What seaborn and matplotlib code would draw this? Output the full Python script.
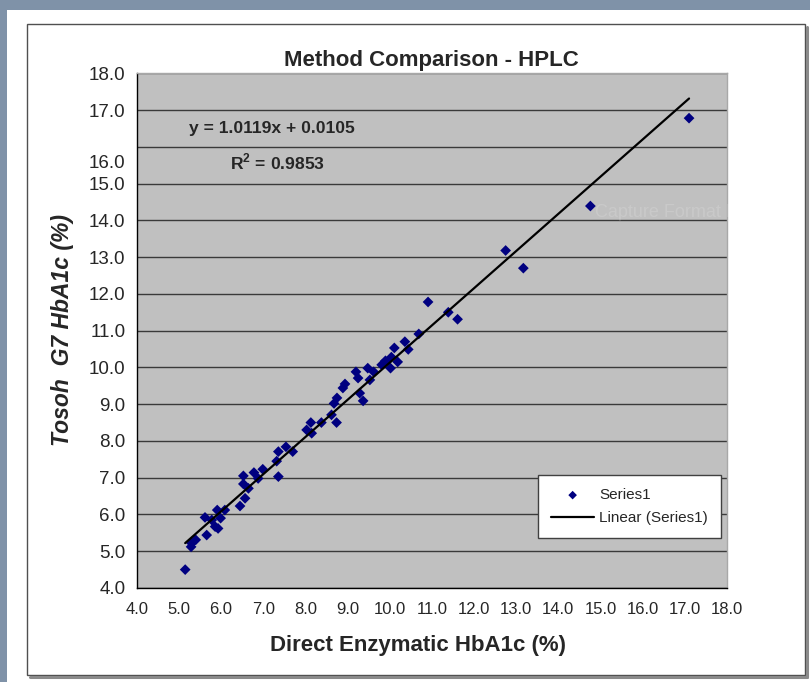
import numpy as np
import pandas as pd
import matplotlib
matplotlib.use('Agg')
import matplotlib.pyplot as plt
import matplotlib.transforms as mtransforms
from matplotlib.patches import Rectangle
from matplotlib.lines import Line2D
import seaborn as sns

# values
direct_enzymatic = [5.15, 5.29, 5.30, 5.40, 5.66, 5.62, 5.78, 5.86, 5.93, 5.91,
                    5.99, 6.09, 6.45, 6.57, 6.53, 6.53, 6.65, 6.78, 6.88, 6.99,
                    7.36, 7.32, 7.36, 7.54, 7.70, 8.03, 8.13, 8.15, 8.38, 8.62,
                    8.74, 8.68, 9.37, 8.75, 8.89, 8.94, 9.20, 9.25, 9.29, 9.48,
                    9.53, 9.62, 9.81, 9.90, 10.04, 10.11, 10.02, 10.19, 10.36, 10.44,
                    10.69, 10.91, 11.39, 11.61, 12.75, 13.17, 14.76, 17.10]
tosoh_g7 = [4.50, 5.12, 5.22, 5.31, 5.44, 5.92, 5.85, 5.67, 5.62, 6.12,
            5.90, 6.12, 6.23, 6.44, 7.05, 6.83, 6.71, 7.14, 6.98, 7.23,
            7.03, 7.45, 7.71, 7.84, 7.71, 8.30, 8.50, 8.21, 8.50, 8.71,
            8.50, 9.02, 9.09, 9.17, 9.44, 9.55, 9.88, 9.71, 9.30, 9.98,
            9.66, 9.88, 10.07, 10.18, 10.28, 10.53, 9.98, 10.15, 10.70, 10.49,
            10.91, 11.78, 11.50, 11.31, 13.18, 12.70, 14.39, 16.78]
slope = 1.0119
intercept = 0.0105
r_squared = 0.9853
axis_ticks = [4.0, 5.0, 6.0, 7.0, 8.0, 9.0, 10.0, 11.0, 12.0, 13.0,
              14.0, 15.0, 16.0, 17.0, 18.0]

sns.set_style('white')
plt.rcParams['font.family'] = ['Liberation Sans', 'DejaVu Sans']
plt.rcParams['mathtext.fontset'] = 'custom'
plt.rcParams['mathtext.rm'] = 'Liberation Sans'
plt.rcParams['mathtext.bf'] = 'Liberation Sans:bold'

df = pd.DataFrame({'direct': direct_enzymatic, 'tosoh': tosoh_g7})

W, H = 810, 682
fig = plt.figure(figsize=(W / 100, H / 100), dpi=100, facecolor='#7f92a8')

# white panel and chart border
fig.add_artist(Rectangle((7 / W, 0), (W - 7) / W, (H - 10) / H, transform=fig.transFigure,
                         facecolor='white', edgecolor='none', zorder=-10))
fig.add_artist(Rectangle((27 / W, 1 - 675 / H), (805 - 27) / W, (675 - 24) / H,
                         transform=fig.transFigure, facecolor='none',
                         edgecolor='#505050', lw=1.0, zorder=-5))
fig.add_artist(Line2D([806.5 / W, 806.5 / W], [1 - 27 / H, 1 - 677 / H],
                      transform=fig.transFigure, color='#8a8a8a', lw=2.2, zorder=-5))
fig.add_artist(Line2D([30 / W, 807 / W], [1 - 676.5 / H, 1 - 676.5 / H],
                      transform=fig.transFigure, color='#8a8a8a', lw=2.2, zorder=-5))

ax = fig.add_axes([136.7 / W, 1 - 588 / H, (727 - 136.7) / W, (588 - 73.3) / H])
ax.set_facecolor('#c0c0c0')
ax.set_axisbelow(True)

sns.scatterplot(data=df, x='direct', y='tosoh', marker='D', color='#000080',
                s=30, edgecolor='none', ax=ax, zorder=3)
dots = ax.collections[0]

x_fit = np.array([min(direct_enzymatic), max(direct_enzymatic)])
fit_line, = ax.plot(x_fit, slope * x_fit + intercept, color='black', lw=1.6, zorder=4)

ax.set_xlim(4, 18)
ax.set_ylim(4, 18)
ax.set_xticks(axis_ticks)
ax.set_yticks(axis_ticks)
ax.set_xticklabels([f'{v:.1f}' for v in axis_ticks], fontsize=12)
ax.set_yticklabels([f'{v:.1f}' for v in axis_ticks], fontsize=13.5)
ax.tick_params(axis='both', direction='out', length=5, width=1, color='black', pad=3)
ax.tick_params(axis='x', pad=5)
ax.yaxis.grid(True, color='#3a3a3a', lw=1.0)
ax.xaxis.grid(False)
for side in ['left', 'bottom']:
    ax.spines[side].set_color('black')
    ax.spines[side].set_linewidth(1.0)
for side in ['top', 'right']:
    ax.spines[side].set_color('#a8a8a8')
    ax.spines[side].set_linewidth(1.0)

# the 16.0 label sits a little below its gridline in the original
for lab in ax.get_yticklabels():
    if lab.get_text() == '16.0':
        lab.set_transform(lab.get_transform() +
                          mtransforms.ScaledTranslation(0, -0.15, fig.dpi_scale_trans))

ax.set_title('Method Comparison - HPLC', fontsize=16, fontweight='bold', pad=5)
ax.set_xlabel('Direct Enzymatic HbA1c (%)', fontsize=16, fontweight='bold')
ax.set_ylabel('Tosoh  G7 HbA1c (%)', fontsize=16.5, fontweight='bold', style='italic')
ax.xaxis.label.set_va('center')
ax.yaxis.label.set_va('center')
ax.xaxis.set_label_coords(0.477, -0.111)
ax.yaxis.set_label_coords(-0.125, 0.501)

ax.text(7.2, 16.51, f'y = {slope}x + {intercept}', ha='center', va='center',
        fontsize=12.6, fontweight='bold')
ax.text(7.35, 15.59, f'R$^{{\\mathbf{{2}}}}$ = {r_squared}', ha='center', va='center',
        fontsize=12.6, fontweight='bold')

leg = ax.legend(handles=[dots, fit_line], labels=['Series1', 'Linear (Series1)'],
                loc='lower right', bbox_to_anchor=(0.99, 0.0966), borderaxespad=0,
                frameon=True, fancybox=False, framealpha=1, edgecolor='#404040',
                fontsize=11, handlelength=2.8, handletextpad=0.35, borderpad=0.85,
                labelspacing=0.6, markerscale=0.8)
leg.get_frame().set_linewidth(1.0)

# faint screenshot watermark
fig.text(595 / W, 1 - 213 / H, 'Capture Format libre', color='white', alpha=0.15,
         fontsize=13, va='center')

fig.savefig('out.png', dpi=100, facecolor=fig.get_facecolor())
